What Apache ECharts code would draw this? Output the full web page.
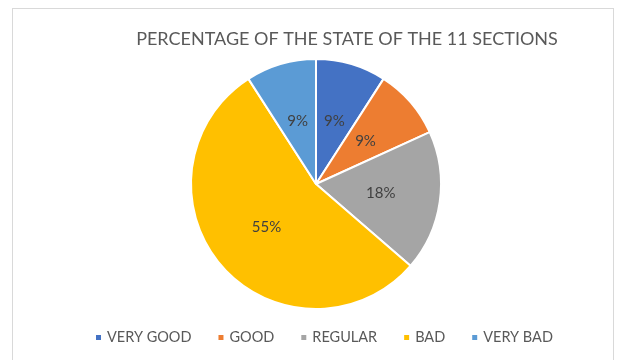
<!DOCTYPE html>
<html>
<head>
<meta charset="utf-8">
<script src="https://cdn.jsdelivr.net/npm/echarts@6/dist/echarts.min.js"></script>
<style>
  html, body { margin: 0; padding: 0; background: #fff; }
  #frame { position: absolute; left: 12px; top: 8px; width: 602px; height: 360px; border: 1px solid #d9d9d9; box-sizing: border-box; }
  #chart { width: 620px; height: 360px; position: absolute; left: 0; top: 0; }
</style>
</head>
<body>
<div id="frame"></div>
<div id="chart"></div>
<script>
// state of the 11 sections
const categories = ['VERY GOOD', 'GOOD', 'REGULAR', 'BAD', 'VERY BAD']
const sectionCounts = [1, 1, 2, 6, 1]
const colorList = ['#4472C4', '#ED7D31', '#A5A5A5', '#FFC000', '#5B9BD5']

const fontFamily = 'Lato, "Open Sans", sans-serif'
let myChart = echarts.init(document.getElementById('chart'))
let seriesData = categories.map((name, index) => ({
  name: name,
  value: sectionCounts[index],
  itemStyle: { color: colorList[index] },
}))

let option = {
  title: {
    text: 'PERCENTAGE OF THE STATE OF THE 11 SECTIONS',
    left: 342,
    top: 25,
    textAlign: 'center',
    textStyle: { color: '#595959', fontSize: 18, fontWeight: 'normal', fontFamily: fontFamily },
  },
  legend: {
    bottom: 10,
    left: 89,
    itemWidth: 7,
    itemHeight: 7,
    itemGap: 25,
    icon: 'rect',
    textStyle: { color: '#595959', fontSize: 14.5, fontFamily: fontFamily },
    data: categories,
  },
  series: [
    {
      type: 'pie',
      radius: [0, 125],
      center: [316, 184],
      startAngle: 90,
      clockwise: true,
      data: seriesData,
      itemStyle: { borderColor: '#fff', borderWidth: 2 },
      label: {
        position: 'inside',
        color: '#404040',
        fontSize: 15,
        fontFamily: fontFamily,
        formatter: (p) => Math.round(p.percent) + '%',
      },
      labelLine: { show: false },
      emphasis: { disabled: true },
    },
  ],
}
myChart.setOption(option)
</script>
</body>
</html>
